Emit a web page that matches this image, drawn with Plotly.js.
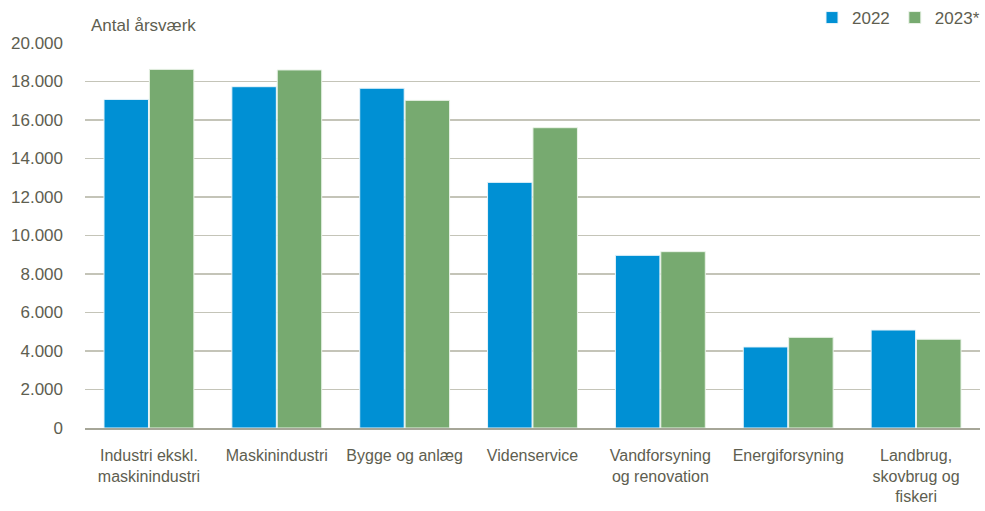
<!DOCTYPE html>
<html>
<head>
<meta charset="utf-8">
<script src="https://cdn.plot.ly/plotly-3.0.1.min.js"></script>
<style>html,body{margin:0;padding:0;background:#fff}#chart{width:985px;height:511px}</style>
</head>
<body>
<div id="chart"></div>
<script>
const categories = [
  "Industri ekskl.<br>maskinindustri",
  "Maskinindustri",
  "Bygge og anlæg",
  "Videnservice",
  "Vandforsyning<br>og renovation",
  "Energiforsyning",
  "Landbrug,<br>skovbrug og<br>fiskeri"
];
const values2022 = [17070, 17730, 17650, 12760, 8970, 4210, 5090];
const values2023 = [18630, 18600, 17020, 15600, 9160, 4710, 4610];
const seriesNames = ["2022", "2023*"];

const textColor = "#5e5e50";
const fontFam = "Liberation Sans, Arial, sans-serif";
const traces = [
  {type: "bar", name: seriesNames[0], x: categories, y: values2022,
   marker: {color: "#0090d4", line: {color: "#e8f4fa", width: 1}}, hoverinfo: "y"},
  {type: "bar", name: seriesNames[1], x: categories, y: values2023,
   marker: {color: "#77aa70", line: {color: "#eaf3e8", width: 1}}, hoverinfo: "y"}
];
const layout = {
  width: 985, height: 511,
  margin: {l: 85, r: 5, t: 43, b: 83},
  paper_bgcolor: "#fff", plot_bgcolor: "#fff",
  separators: ",.",
  font: {family: fontFam, size: 17, color: textColor},
  barmode: "group", bargap: 0.29, bargroupgap: 0.02,
  title: {text: "Antal årsværk", xref: "container", yref: "container",
          x: 91/985, xanchor: "left", y: 1 - 25/511, yanchor: "middle",
          font: {family: fontFam, size: 17, color: textColor}},
  showlegend: true,
  legend: {orientation: "h", x: 1, xanchor: "right", y: 1 - 18/511, yanchor: "middle",
           xref: "container", yref: "container", font: {family: fontFam, size: 17, color: textColor},
           itemwidth: 30, traceorder: "normal"},
  xaxis: {type: "category", showgrid: false, zeroline: false, showline: true,
          linecolor: "#a6a698", linewidth: 1.5, ticks: "", ticklabelstandoff: 12,
          tickangle: 0, automargin: false,
          tickfont: {family: fontFam, size: 16, color: textColor}},
  yaxis: {range: [0, 20000], dtick: 2000, tickformat: ",d", showgrid: true,
          gridcolor: "#c4c4b8", gridwidth: 1.5, zeroline: false, showline: false,
          ticks: "", ticklabelstandoff: 21, automargin: false,
          tickfont: {family: fontFam, size: 17, color: textColor}}
};
Plotly.newPlot("chart", traces, layout, {displayModeBar: false, staticPlot: true});
</script>
</body>
</html>
